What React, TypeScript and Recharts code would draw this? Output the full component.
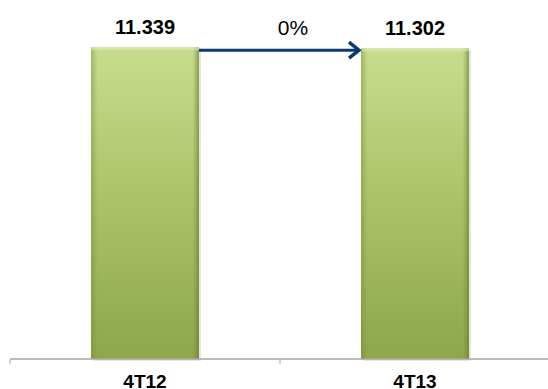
import { BarChart, Bar, XAxis, YAxis, LabelList } from "recharts";

const quarters = ["4T12", "4T13"];
const revenue = [11339, 11302];
const changeLabels = ["0%"];

const data = quarters.map((quarter, i) => ({ quarter, value: revenue[i] }));

const W = 560;
const H = 389;
const MARGIN = { top: 29, right: 10, left: 10, bottom: 0 };
const BAND = (W - MARGIN.left - MARGIN.right) / quarters.length;
const FONT = "'Liberation Sans', Arial, sans-serif";
const AXIS_GREY = "#a6a6a6";

function formatValue(v: number): string {
  const thousands = Math.floor(v / 1000);
  const rest = String(v % 1000).padStart(3, "0");
  return `${thousands}.${rest}`;
}

function box(props: any) {
  const vb = props.viewBox && props.viewBox.width != null ? props.viewBox : props;
  return { x: Number(vb.x), y: Number(vb.y), width: Number(vb.width), height: Number(vb.height) };
}

function GreenBar(props: any) {
  const { x, y, width, height } = props;
  if (!height) return null;
  return (
    <g>
      <rect x={x + 2} y={y + 2} width={width} height={height} fill="#000" opacity={0.1} />
      <rect x={x} y={y} width={width} height={height} fill="url(#barFill)" />
      <rect x={x} y={y} width={width} height={height} fill="url(#barEdge)" />
      <rect x={x} y={y} width={width} height={3} fill="#dfeab8" opacity={0.6} />
    </g>
  );
}

// category label in the middle, tick mark on the band boundaries
function QuarterTick(props: any) {
  const { x, y, payload, index } = props;
  const left = x - BAND / 2;
  return (
    <g>
      <line x1={left} y1={y} x2={left} y2={y + 5} stroke={AXIS_GREY} />
      {index === quarters.length - 1 && (
        <line x1={left + BAND} y1={y} x2={left + BAND} y2={y + 5} stroke={AXIS_GREY} />
      )}
      <text
        x={x}
        y={y + 16}
        dy="0.71em"
        textAnchor="middle"
        fontFamily={FONT}
        fontWeight="bold"
        fontSize={19}
        fill="#000"
      >
        {payload.value}
      </text>
    </g>
  );
}

function ValueLabel(props: any) {
  const { x, y, width } = box(props);
  return (
    <text
      x={x + width / 2}
      y={y - 13}
      textAnchor="middle"
      fontFamily={FONT}
      fontWeight="bold"
      fontSize={20}
      fill="#000"
    >
      {formatValue(Number(props.value))}
    </text>
  );
}

function ChangeArrow(props: any) {
  const idx = Number(props.index);
  if (idx >= changeLabels.length) return null;
  const { x, y, width } = box(props);
  const x1 = x + width;
  const x2 = x + BAND;
  const ay = y + 3;
  return (
    <g>
      <line x1={x1} y1={ay} x2={x2 - 2} y2={ay} stroke="#0d3a6c" strokeWidth={3} />
      <polyline
        points={`${x2 - 12},${ay - 8} ${x2 - 2},${ay} ${x2 - 12},${ay + 8}`}
        fill="none"
        stroke="#0d3a6c"
        strokeWidth={3.5}
        strokeLinejoin="miter"
      />
      <text
        x={(x1 + x2) / 2 + 13}
        y={y - 12}
        textAnchor="middle"
        fontFamily={FONT}
        fontSize={21}
        fill="#000"
      >
        {changeLabels[idx]}
      </text>
    </g>
  );
}

export default function App() {
  return (
    <div style={{ position: "absolute", left: 0, top: 0, width: 548, height: 389, overflow: "hidden", background: "#fff" }}>
      <BarChart width={W} height={H} data={data} margin={MARGIN}>
        <defs>
          <linearGradient id="barFill" x1="0" y1="0" x2="0" y2="1">
            <stop offset="0%" stopColor="#c9dc8e" />
            <stop offset="45%" stopColor="#aec46a" />
            <stop offset="100%" stopColor="#8ea74b" />
          </linearGradient>
          <linearGradient id="barEdge" x1="0" y1="0" x2="1" y2="0">
            <stop offset="0%" stopColor="#6f8a30" stopOpacity={0.45} />
            <stop offset="6%" stopColor="#6f8a30" stopOpacity={0} />
            <stop offset="94%" stopColor="#6f8a30" stopOpacity={0} />
            <stop offset="100%" stopColor="#5d7526" stopOpacity={0.6} />
          </linearGradient>
        </defs>
        <XAxis
          dataKey="quarter"
          height={30}
          axisLine={{ stroke: AXIS_GREY, strokeWidth: 1.5 }}
          tickLine={false}
          tickSize={0}
          tickMargin={0}
          tick={QuarterTick}
          interval={0}
        />
        <YAxis hide domain={[0, 12000]} />
        <Bar dataKey="value" barSize={108} shape={GreenBar} isAnimationActive={false}>
          <LabelList dataKey="value" content={ValueLabel} />
          <LabelList dataKey="value" content={ChangeArrow} />
        </Bar>
      </BarChart>
    </div>
  );
}
